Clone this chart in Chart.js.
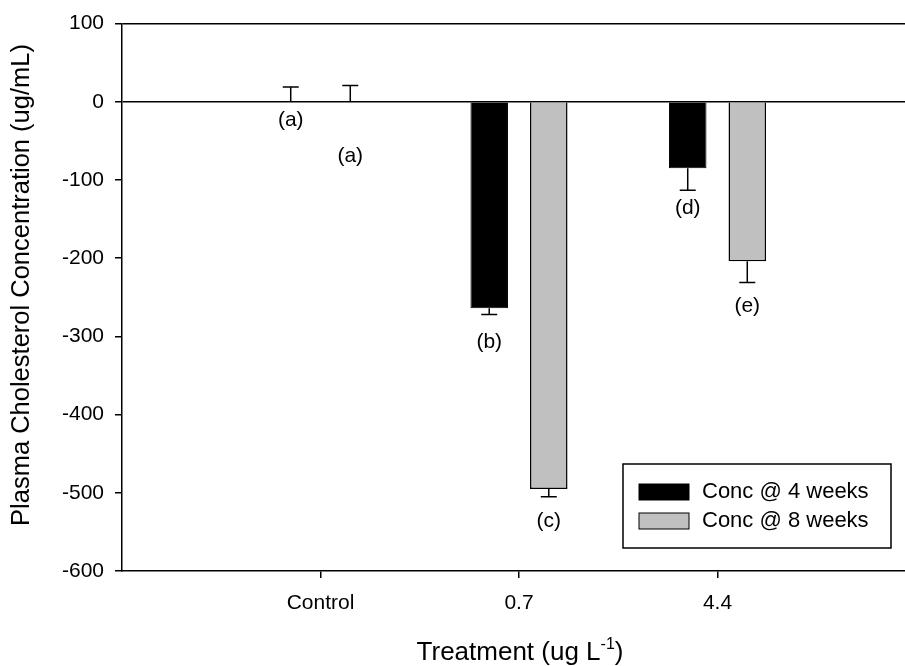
<!DOCTYPE html>
<html>
<head>
<meta charset="utf-8">
<script src="https://cdn.jsdelivr.net/npm/chart.js@4.4.0/dist/chart.umd.min.js"></script>
<style>
  html, body { margin: 0; padding: 0; overflow: hidden; background: #fff; }
  #wrap { position: absolute; left: 0; top: 0; width: 929px; height: 666px; }
</style>
</head>
<body>
<div id="wrap"><canvas id="chart"></canvas></div>
<script>
// blank categories at both ends pad the axis like the original plot
var treatments = ['', 'Control', '0.7', '4.4', ''];
var conc4 = [null, 0, -264, -85, null];
var conc8 = [null, 0, -495, -204, null];
var err4 = [null, 19, 8, 28, null];
var err8 = [null, 21, 10, 27, null];
var letters4 = [null, '(a)', '(b)', '(d)', null];
var letters8 = [null, '(a)', '(c)', '(e)', null];
var letterAt4 = [null, -24, -307, -136, null];
var letterAt8 = [null, -69, -536, -262, null];
var yTicks = [100, 0, -100, -200, -300, -400, -500, -600];

var FONT = '"Liberation Sans", Arial, sans-serif';

// error bars (away from zero) plus the significance letters
var errorBars = {
  id: 'errorBars',
  afterDatasetsDraw: function(chart) {
    var ctx = chart.ctx;
    var y = chart.scales.y;
    ctx.save();
    ctx.strokeStyle = '#000';
    ctx.lineWidth = 1.5;
    chart.data.datasets.forEach(function(ds, di) {
      var meta = chart.getDatasetMeta(di);
      meta.data.forEach(function(bar, i) {
        var v = ds.data[i], e = ds.errors[i];
        if (v == null || e == null) return;
        var base = y.getPixelForValue(v);
        var end = y.getPixelForValue(v < 0 ? v - e : v + e);
        ctx.beginPath();
        ctx.moveTo(bar.x, base);
        ctx.lineTo(bar.x, end);
        ctx.moveTo(bar.x - 8, end);
        ctx.lineTo(bar.x + 8, end);
        ctx.stroke();
      });
    });
    ctx.fillStyle = '#000';
    ctx.font = '21px ' + FONT;
    ctx.textAlign = 'center';
    ctx.textBaseline = 'middle';
    chart.data.datasets.forEach(function(ds, di) {
      var meta = chart.getDatasetMeta(di);
      meta.data.forEach(function(bar, i) {
        if (!ds.letters[i]) return;
        ctx.fillText(ds.letters[i], bar.x, y.getPixelForValue(ds.letterAt[i]));
      });
    });
    ctx.restore();
  }
};

// boxed legend in the lower right corner
var boxLegend = {
  id: 'boxLegend',
  afterDraw: function(chart) {
    var ctx = chart.ctx;
    ctx.save();
    ctx.lineWidth = 1.5;
    ctx.strokeStyle = '#000';
    ctx.fillStyle = '#fff';
    ctx.fillRect(623, 464, 268, 84);
    ctx.strokeRect(623, 464, 268, 84);
    ctx.font = '22px ' + FONT;
    ctx.textBaseline = 'middle';
    ctx.textAlign = 'left';
    chart.data.datasets.forEach(function(ds, i) {
      var top = 484 + i * 29;
      ctx.fillStyle = ds.backgroundColor;
      ctx.fillRect(639, top, 50, 16);
      ctx.lineWidth = 1;
      ctx.strokeRect(639, top, 50, 16);
      ctx.fillStyle = '#000';
      ctx.fillText(ds.label, 702, top + 8);
    });
    ctx.restore();
  }
};

// axis titles: the x one needs a superscript unit
var axisTitles = {
  id: 'axisTitles',
  afterDraw: function(chart) {
    var ctx = chart.ctx;
    var main = 'Treatment (ug L', sup = '-1', close = ')';
    ctx.save();
    ctx.fillStyle = '#000';
    ctx.textBaseline = 'alphabetic';
    ctx.textAlign = 'left';
    ctx.font = '26px ' + FONT;
    var w1 = ctx.measureText(main).width, w3 = ctx.measureText(close).width;
    ctx.font = '16px ' + FONT;
    var w2 = ctx.measureText(sup).width;
    var x = 520 - (w1 + w2 + w3) / 2;
    var base = 660;
    ctx.font = '26px ' + FONT;
    ctx.fillText(main, x, base);
    ctx.font = '16px ' + FONT;
    ctx.fillText(sup, x + w1, base - 11);
    ctx.font = '26px ' + FONT;
    ctx.fillText(close, x + w1 + w2, base);

    ctx.translate(22, 285);
    ctx.rotate(-Math.PI / 2);
    ctx.textAlign = 'center';
    ctx.textBaseline = 'middle';
    ctx.font = '25.5px ' + FONT;
    ctx.fillText('Plasma Cholesterol Concentration (ug/mL)', 0, 0);
    ctx.restore();
  }
};

new Chart(document.getElementById('chart'), {
  type: 'bar',
  data: {
    labels: treatments,
    datasets: [{
      label: 'Conc @ 4 weeks',
      data: conc4,
      errors: err4,
      letters: letters4,
      letterAt: letterAt4,
      backgroundColor: '#000000',
      borderColor: '#000000',
      borderWidth: 1
    }, {
      label: 'Conc @ 8 weeks',
      data: conc8,
      errors: err8,
      letters: letters8,
      letterAt: letterAt8,
      backgroundColor: '#c0c0c0',
      borderColor: '#000000',
      borderWidth: 1.5
    }]
  },
  options: {
    responsive: true,
    maintainAspectRatio: false,
    animation: false,
    categoryPercentage: 0.6,
    barPercentage: 0.63,
    layout: { padding: { top: 22, right: 6, left: 0, bottom: 0 } },
    plugins: {
      legend: { display: false },
      tooltip: { enabled: false }
    },
    scales: {
      x: {
        offset: false,
        grid: {
          offset: false,
          drawOnChartArea: false,
          tickLength: 7,
          lineWidth: 1.5,
          tickColor: function(c) { return c.tick && c.tick.label ? '#000' : 'rgba(0,0,0,0)'; }
        },
        border: { color: '#000', width: 1.5 },
        ticks: {
          autoSkip: false,
          maxRotation: 0,
          padding: 13,
          color: '#000',
          font: { family: FONT, size: 21 }
        },
        afterFit: function(scale) { scale.height = 95; }
      },
      y: {
        min: -600,
        max: 100,
        afterBuildTicks: function(scale) {
          scale.ticks = yTicks.map(function(v) { return { value: v }; });
        },
        grid: {
          lineWidth: 1.5,
          tickLength: 7,
          tickColor: '#000',
          color: function(c) {
            return c.tick && (c.tick.value === 0 || c.tick.value === 100) ? '#000' : 'rgba(0,0,0,0)';
          }
        },
        border: { color: '#000', width: 1.5 },
        ticks: {
          padding: 11,
          color: '#000',
          font: { family: FONT, size: 21 }
        },
        afterFit: function(scale) { scale.width = 122; }
      }
    }
  },
  plugins: [errorBars, boxLegend, axisTitles]
});
</script>
</body>
</html>
